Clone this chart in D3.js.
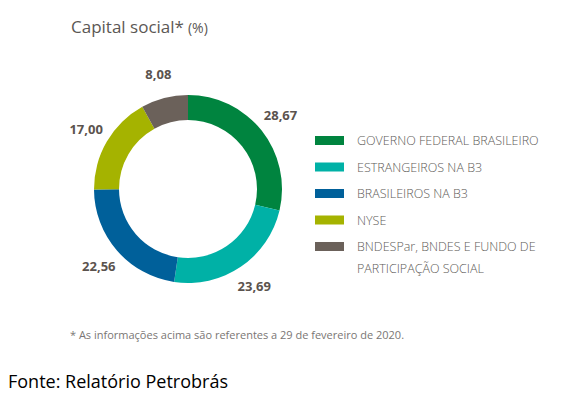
<!DOCTYPE html>
<html lang="pt">
<head>
<meta charset="utf-8">
<style>
  body { margin: 0; background: #fff; }
  svg { display: block; font-family: "Open Sans", sans-serif; }
</style>
</head>
<body>
<script src="https://cdn.jsdelivr.net/npm/d3@7"></script>
<script>
// data
var categories = ["GOVERNO FEDERAL BRASILEIRO", "ESTRANGEIROS NA B3", "BRASILEIROS NA B3", "NYSE",
                  "BNDESPar, BNDES E FUNDO DE|PARTICIPAÇÃO SOCIAL"];
var values = [28.67, 23.69, 22.56, 17.00, 8.08];
var colors = ["#00843f", "#00b1a6", "#00609a", "#a5b300", "#6b615a"];

var width = 573, height = 397;
var cx = 188, cy = 189, rOuter = 94, rInner = 69;

var svg = d3.select("body").append("svg")
    .attr("width", width)
    .attr("height", height);

// title
var title = svg.append("text")
    .attr("x", 71).attr("y", 33)
    .attr("fill", "#5b5754")
    .attr("font-size", 17);
title.append("tspan").text("Capital social*");
title.append("tspan").attr("font-size", 14).attr("dx", 4).text("(%)");

var pie = d3.pie().sort(null).value(function(d) { return d; });
var arcs = pie(values);
var arc = d3.arc().innerRadius(rInner).outerRadius(rOuter);
var labelArc = d3.arc().innerRadius(118).outerRadius(118);

var g = svg.append("g").attr("transform", "translate(" + cx + "," + cy + ")");

g.selectAll("path")
    .data(arcs)
    .enter().append("path")
    .attr("d", arc)
    .attr("fill", function(d, i) { return colors[i]; });

var fmt = function(v) { return d3.format(".2f")(v).replace(".", ","); };

g.selectAll("text.val")
    .data(arcs)
    .enter().append("text")
    .attr("class", "val")
    .attr("transform", function(d) { return "translate(" + labelArc.centroid(d) + ")"; })
    .attr("text-anchor", "middle")
    .attr("dy", "0.35em")
    .attr("font-size", 13)
    .attr("font-weight", "bold")
    .attr("fill", "#5b534e")
    .text(function(d) { return fmt(d.data); });

// legend
var legend = svg.append("g");
var rowY = d3.scaleLinear().domain([0, 4]).range([140.5, 246.5]);
var items = legend.selectAll("g")
    .data(categories)
    .enter().append("g")
    .attr("transform", function(d, i) { return "translate(315," + rowY(i) + ")"; });

items.append("rect")
    .attr("x", 0).attr("y", -4.5)
    .attr("width", 29).attr("height", 9)
    .attr("fill", function(d, i) { return colors[i]; });

items.append("text")
    .attr("x", 42)
    .attr("font-size", 12.5)
    .attr("font-weight", 300)
    .attr("fill", "#605c59")
    .selectAll("tspan")
    .data(function(d) { return d.split("|"); })
    .enter().append("tspan")
    .attr("x", 42)
    .attr("y", function(d, i) { return i * 22; })
    .attr("dy", "0.36em")
    .text(function(d) { return d; });

// footnote
svg.append("text")
    .attr("x", 70).attr("y", 339)
    .attr("font-size", 11)
    .attr("fill", "#7a7674")
    .text("* As informações acima são referentes a 29 de fevereiro de 2020.");

svg.append("text")
    .attr("x", 8).attr("y", 388)
    .attr("font-size", 18)
    .attr("fill", "#000")
    .text("Fonte: Relatório Petrobrás");
</script>
</body>
</html>
